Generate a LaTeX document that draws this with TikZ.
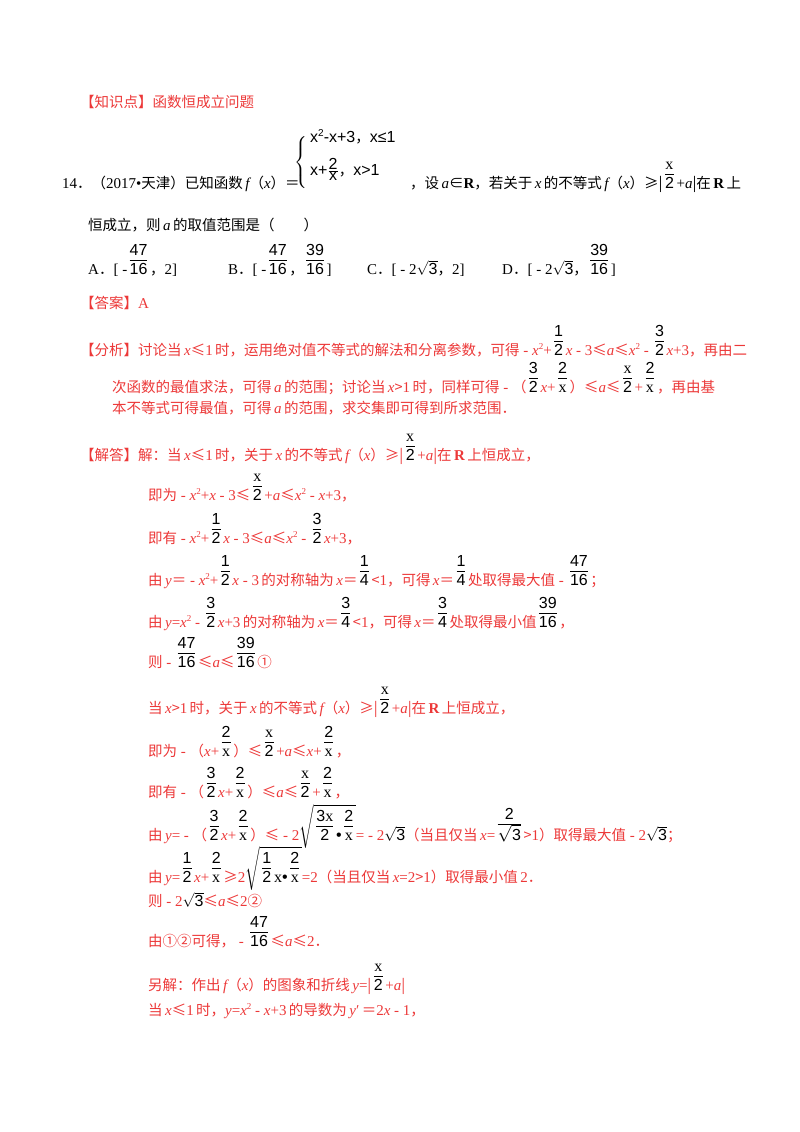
\documentclass[tikz,border=0pt]{standalone}
\usepackage{fontspec}
\usepackage{amsmath,amssymb}
\setmainfont{Noto Sans CJK SC}
\newfontfamily\serf{Liberation Serif}
\newfontfamily\fsansf{Liberation Sans}
\newcommand\ser{\serf\fontsize{15}{17}\selectfont}
\newcommand\fsans{\fsansf\fontsize{16}{18}\selectfont}
\definecolor{rd}{RGB}{236,56,56}
\newcommand\X{{\ser\itshape x}}
\newcommand\A{{\ser\itshape a}}
\newcommand\Y{{\ser\itshape y}}
\newcommand\F{{\ser\itshape f}}
\newcommand\R{{\ser\bfseries R}}
\newcommand\sq{\raisebox{5.5pt}{\serf\fontsize{9}{9}\selectfont 2}}
\newcommand\fx{{\serf\fontsize{16}{18}\selectfont x}}
\newcommand\fr[2]{{\,\color{black}\fsans\renewcommand\arraystretch{0.95}\begin{tabular}[b]{@{}c@{}}#1\\[-1pt]\hline\rule{0pt}{14pt}#2\end{tabular}\,}}
\newcommand\rt[1]{{\color{black}$\sqrt{\hbox{\fsans #1}}$}}
\newcommand\mi{{\ser\ -\ }}
\begin{document}
\begin{tikzpicture}[x=1pt,y=-1pt,
  every node/.style={anchor=base west,inner sep=0pt,font=\fontsize{14.5}{17}\selectfont},
  redt/.style={text=rd}]
\useasboundingbox (0,0) rectangle (800,1132);
\node[redt] (k) at (80,107) {【知识点】函数恒成立问题};
\node (q1) at (62,188) {{\ser 14}．（{\ser 2017•}天津）已知函数\,\F（\X）＝};
\node (br) at (294,166) {$\left\{\rule{0pt}{30pt}\right.$};
\node (p1) at (310,142) {{\fsans x\raisebox{6pt}{\fsansf\fontsize{10}{10}\selectfont 2}-x+3}，{\fsans x}{\fsans ≤1}};
\node (p2) at (310,175) {{\fsans x+}$\genfrac{}{}{0.4pt}{}{\hbox{\fsans 2}}{\hbox{\fsans x}}$，{\fsans x>1}};
\node (q2) at (410,188) {，设\,\A∈\R，若关于\,\X\,的不等式\,\F（\X）≥|\fr{\fx}{2}{\ser +}\A|在\,\R\,上};
\node (q3) at (88,230) {恒成立，则\,\A\,的取值范围是（\qquad）};
\node (oa) at (88,274) {{\ser A}．{\ser [ -}\fr{47}{16}，{\ser 2]}};
\node (ob) at (228,274) {{\ser B}．{\ser [ -}\fr{47}{16}，\fr{39}{16}{\ser ]}};
\node (oc) at (367,274) {{\ser C}．{\ser [ - 2}\rt{3}，{\ser 2]}};
\node (od) at (502,274) {{\ser D}．{\ser [ - 2}\rt{3}，\fr{39}{16}{\ser ]}};
\node[redt] (ans) at (80,308) {【答案】{\ser A}};
\node[redt] (f1) at (80,355) {【分析】讨论当\,\X≤{\ser 1}\,时，运用绝对值不等式的解法和分离参数，可得\mi\X\sq{\ser +}\fr{1}{2}\X\mi{\ser 3}≤\A≤\X\sq\mi\fr{3}{2}\X{\ser +3}，再由二};
\node[redt] (f2) at (112,392) {次函数的最值求法，可得\,\A\,的范围；讨论当\,\X>{\ser 1}\,时，同样可得\mi（\fr{3}{2}\X{\ser +}\fr{2}{\fx}）≤\A≤\fr{\fx}{2}{\ser +}\fr{2}{\fx}，再由基};
\node[redt] (f3) at (112,413) {本不等式可得最值，可得\,\A\,的范围，求交集即可得到所求范围．};
\node[redt] (j0) at (80,460) {【解答】解：当\,\X≤{\ser 1}\,时，关于\,\X\,的不等式\,\F（\X）≥|\fr{\fx}{2}{\ser +}\A|在\,\R\,上恒成立，};
\node[redt] (j1) at (148,500) {即为\mi\X\sq{\ser +}\X\mi{\ser 3}≤\fr{\fx}{2}{\ser +}\A≤\X\sq\mi\X{\ser +3}，};
\node[redt] (j2) at (148,543) {即有\mi\X\sq{\ser +}\fr{1}{2}\X\mi{\ser 3}≤\A≤\X\sq\mi\fr{3}{2}\X{\ser +3}，};
\node[redt] (j3) at (148,585) {由\,\Y＝\mi\X\sq{\ser +}\fr{1}{2}\X\mi{\ser 3}\,的对称轴为\,\X＝\fr{1}{4}<{\ser 1}，可得\,\X＝\fr{1}{4}处取得最大值\mi\fr{47}{16}；};
\node[redt] (j4) at (148,627) {由\,\Y{\ser =}\X\sq\mi\fr{3}{2}\X{\ser +3}\,的对称轴为\,\X＝\fr{3}{4}<{\ser 1}，可得\,\X＝\fr{3}{4}处取得最小值\fr{39}{16}，};
\node[redt] (j5) at (148,667) {则\mi\fr{47}{16}≤\A≤\fr{39}{16}①};
\node[redt] (j6) at (148,713) {当\,\X>{\ser 1}\,时，关于\,\X\,的不等式\,\F（\X）≥|\fr{\fx}{2}{\ser +}\A|在\,\R\,上恒成立，};
\node[redt] (j7) at (148,756) {即为\mi（\X{\ser +}\fr{2}{\fx}）≤\fr{\fx}{2}{\ser +}\A≤\X{\ser +}\fr{2}{\fx}，};
\node[redt] (j8) at (148,797) {即有\mi（\fr{3}{2}\X{\ser +}\fr{2}{\fx}）≤\A≤\fr{\fx}{2}{\ser +}\fr{2}{\fx}，};
\node[redt] (j9) at (148,840) {由\,\Y{\ser =}\mi（\fr{3}{2}\X{\ser +}\fr{2}{\fx}）≤\mi{\ser 2}\rt{\fr{3\fx}{2}•\fr{2}{\fx}}{\ser =}\mi{\ser 2}\rt{3}（当且仅当\,\X{\ser =}\fr{2}{\rt{3}}>{\ser 1}）取得最大值\mi{\ser 2}\rt{3}；};
\node[redt] (j10) at (148,882) {由\,\Y{\ser =}\fr{1}{2}\X{\ser +}\fr{2}{\fx}≥{\ser 2}\rt{\fr{1}{2}\fx•\fr{2}{\fx}}{\ser =2}（当且仅当\,\X{\ser =2}>{\ser 1}）取得最小值\,{\ser 2}．};
\node[redt] (j11) at (148,906) {则\mi{\ser 2}\rt{3}≤\A≤{\ser 2}②};
\node[redt] (j12) at (148,946) {由①②可得，\mi\fr{47}{16}≤\A≤{\ser 2}．};
\node[redt] (j13) at (148,990) {另解：作出\,\F（\X）的图象和折线\,\Y{\ser =}|\fr{\fx}{2}{\ser +}\A|};
\node[redt] (j14) at (148,1015) {当\,\X≤{\ser 1}\,时，\Y{\ser =}\X\sq\mi\X{\ser +3}\,的导数为\,\Y{\ser ′}\,＝{\ser 2}\X\mi{\ser 1}，};
\end{tikzpicture}
\end{document}
